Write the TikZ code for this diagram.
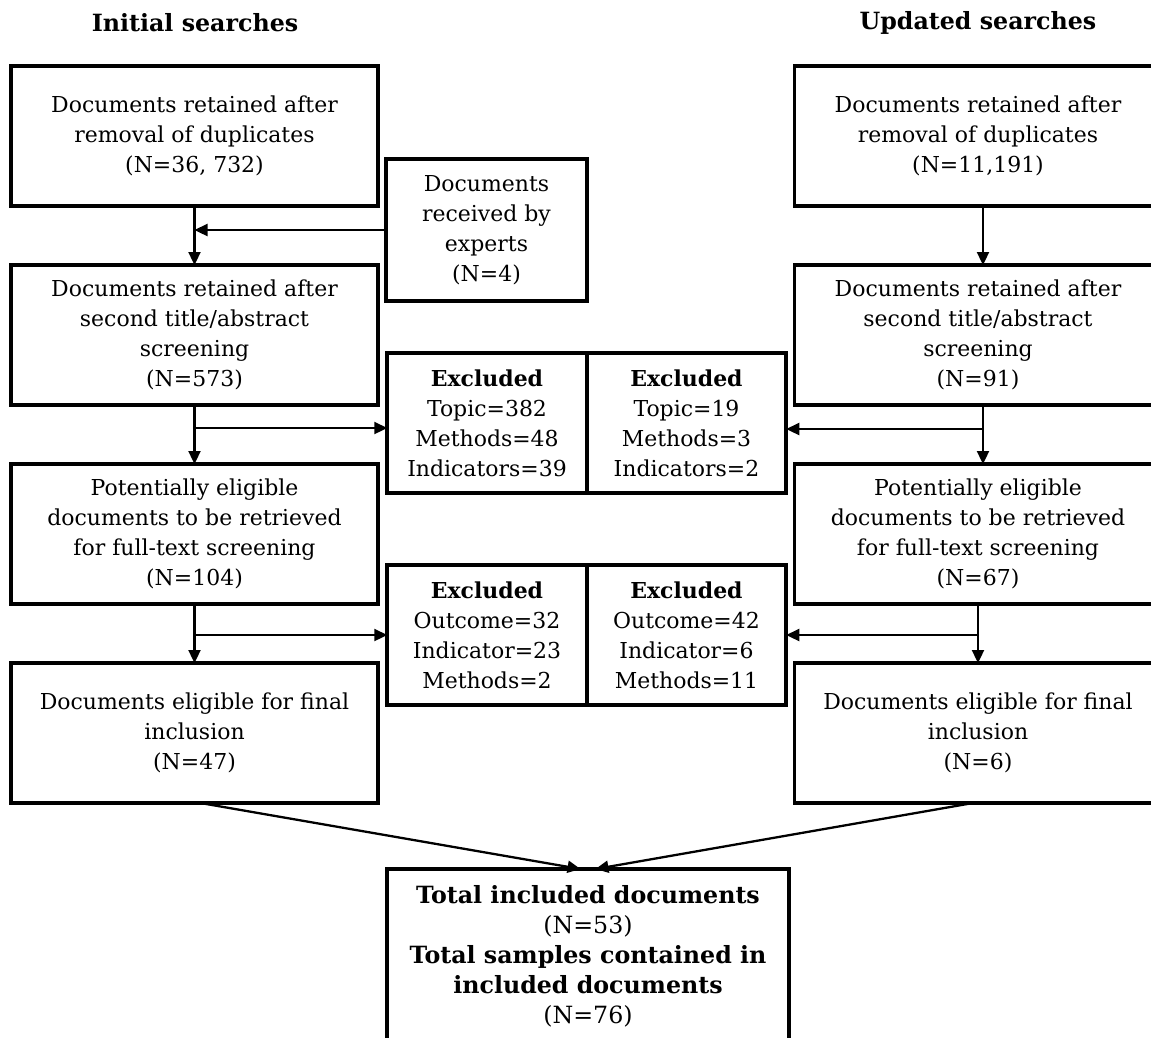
\documentclass[tikz,border=0pt]{standalone}
\usepackage{fontspec}
\setmainfont{DejaVu Serif}
\usepackage{tikz}
\usetikzlibrary{arrows.meta,positioning}

\begin{document}
\begin{tikzpicture}[
        node distance=1.18cm and 0cm,
        every node/.style={align=center, font=\fontsize{12.5pt}{17pt}\selectfont},
        box/.style={draw, line width=2.2pt, inner sep=0pt, outer sep=0pt, minimum width=7.34cm, minimum height=2.8cm},
        expbox/.style={box, minimum width=4.02cm, minimum height=2.84cm},
        exbox/.style={box, minimum width=3.99cm, minimum height=2.8cm},
        totbox/.style={box, minimum width=8.04cm, minimum height=3.5cm},
        heading/.style={font=\fontsize{13.5pt}{17pt}\selectfont\bfseries},
        big/.style={font=\fontsize{13.5pt}{17pt}\selectfont},
        arr/.style={-{Triangle[length=0.26cm, width=0.24cm]}, line width=1.3pt}
    ]

    \useasboundingbox (0,0) rectangle (23.02,-20.74);

    % Headings
    \node[heading] (tleft) at (3.9,-0.46) {Initial searches};
    \node[heading] (tright) at (19.56,-0.46) {Updated searches};

    % Initial searches
    \node[box] (l1) at (3.89,-2.72) {Documents retained after \\
        removal of duplicates \\ (N=36, 732)};
    \node[box, below=of l1] (l2) {Documents retained after \\
        second title/abstract \\ screening \\ (N=573)};
    \node[box, below=of l2] (l3) {Potentially eligible \\
        documents to be retrieved \\ for full-text screening \\ (N=104)};
    \node[box, below=of l3] (l4) {Documents eligible for final \\
        inclusion \\ (N=47)};

    % Updated searches
    \node[box] (r1) at (19.56,-2.72) {Documents retained after \\
        removal of duplicates \\ (N=11,191)};
    \node[box, below=of r1] (r2) {Documents retained after \\
        second title/abstract \\ screening \\ (N=91)};
    \node[box, below=of r2] (r3) {Potentially eligible \\
        documents to be retrieved \\ for full-text screening \\ (N=67)};
    \node[box, below=of r3] (r4) {Documents eligible for final \\
        inclusion \\ (N=6)};

    % Middle column
    \node[expbox] (exp) at (9.73,-4.6) {Documents \\ received by \\ experts \\ (N=4)};

    \node[exbox] (ex1l) at (9.74,-8.46) {\textbf{Excluded} \\
        Topic=382 \\ Methods=48 \\ Indicators=39};
    \node[exbox, right=of ex1l] (ex1r) {\textbf{Excluded} \\
        Topic=19 \\ Methods=3 \\ Indicators=2};

    \node[exbox] (ex2l) at (9.74,-12.7) {\textbf{Excluded} \\
        Outcome=32 \\ Indicator=23 \\ Methods=2};
    \node[exbox, right=of ex2l] (ex2r) {\textbf{Excluded} \\
        Outcome=42 \\ Indicator=6 \\ Methods=11};

    \node[totbox, big, anchor=north] (tot) at (11.76,-17.38) {\textbf{Total included documents} \\
        (N=53) \\ \textbf{Total samples contained in} \\
        \textbf{included documents} \\ (N=76)};

    % Branch points
    \coordinate (b1) at ([yshift=-0.1cm]ex1l.west);
    \coordinate (b2) at ([yshift=-0.12cm]ex1r.east);

    % Edges
    \draw[arr] (l1) -- (l2);
    \draw[arr] (exp.west) -- (l1.south |- exp.west);
    \draw[arr] (l2) -- (l3);
    \draw[arr] (l2.south |- b1) -- (b1);
    \draw[arr] (l3) -- (l4);
    \draw[arr] (l3.south |- ex2l.west) -- (ex2l.west);

    \draw[arr] ([xshift=0.1cm]r1.south) -- ([xshift=0.1cm]r2.north);
    \draw[arr] ([xshift=0.1cm]r2.south) -- ([xshift=0.1cm]r3.north);
    \draw[arr] ([xshift=0.1cm]r2.south |- b2) -- (b2);
    \draw[arr] (r3) -- (r4);
    \draw[arr] (r3.south |- ex2r.east) -- (ex2r.east);

    \draw[arr] ([xshift=0.12cm]l4.south) -- ([xshift=-0.15cm]tot.north);
    \draw[arr] ([xshift=-0.1cm]r4.south) -- ([xshift=0.15cm]tot.north);

\end{tikzpicture}
\end{document}
